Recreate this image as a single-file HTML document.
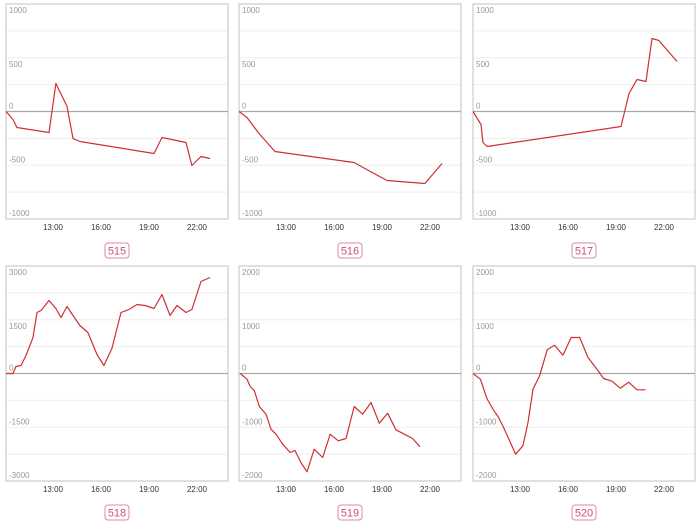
<!DOCTYPE html>
<html><head><meta charset="utf-8">
<style>
html,body{margin:0;padding:0;background:#fff;width:700px;height:524px;overflow:hidden;font-family:"Liberation Sans",sans-serif;}
svg{display:block}
</style></head>
<body>
<svg id="root" width="700" height="524" viewBox="0 0 700 524"></svg>
<script>
// ---- data ----
const panelIds = ["515","516","517","518","519","520"];
const yMaxes = [1000,1000,1000,3000,2000,2000];
const xTicks = [13,16,19,22];
const xTickLabels = ["13:00","16:00","19:00","22:00"];
const t515 = [10.0,10.44,10.69,12.69,13.12,13.81,14.19,14.62,19.25,19.75,21.25,21.62,22.19,22.75];
const v515 = [0,-74,-149,-195,260,47,-251,-279,-391,-242,-288,-502,-419,-437];
const t516 = [10.0,10.5,11.25,12.25,17.19,19.25,21.62,22.69];
const v516 = [0,-56,-205,-372,-474,-642,-670,-484];
const t517 = [10.0,10.5,10.62,10.88,19.25,19.75,20.25,20.81,21.19,21.62,22.75];
const v517 = [0,-121,-288,-326,-140,167,298,279,679,660,465];
const t518 = [10.0,10.44,10.62,10.94,11.25,11.69,11.94,12.19,12.69,13.12,13.44,13.81,14.19,14.62,15.12,15.69,16.12,16.62,17.19,17.69,18.19,18.69,19.25,19.75,20.25,20.69,21.25,21.62,22.19,22.75];
const v518 = [0,0,195,223,502,1004,1702,1758,2037,1814,1562,1869,1618,1339,1144,530,223,698,1702,1786,1925,1897,1814,2204,1618,1897,1702,1786,2567,2678];
const t519 = [10.08,10.5,10.7,10.96,11.27,11.69,12.0,12.31,12.73,13.2,13.5,13.87,14.25,14.7,15.23,15.7,16.2,16.69,17.2,17.73,18.25,18.77,19.29,19.81,20.33,20.85,21.31];
const v519 = [0,-106,-242,-322,-614,-757,-1036,-1129,-1315,-1469,-1432,-1655,-1829,-1408,-1562,-1129,-1252,-1209,-614,-757,-539,-924,-738,-1047,-1129,-1209,-1363];
const t520 = [10.0,10.46,10.87,11.25,11.6,11.91,12.29,12.66,13.12,13.44,13.75,14.16,14.64,15.1,15.62,16.14,16.67,17.19,17.71,18.16,18.69,19.2,19.73,20.25,20.79];
const v520 = [0,-106,-465,-664,-818,-1004,-1252,-1501,-1345,-911,-292,-43,441,527,341,670,670,298,93,-93,-143,-273,-161,-304,-304];
const times = [t515,t516,t517,t518,t519,t520];
const values = [v515,v516,v517,v518,v519,v520];

// ---- layout ----
const NS="http://www.w3.org/2000/svg";
const root=document.getElementById('root');
const colX=[6,239,473], rowY=[4,266], PW=222, PH=215;
function mk(tag,attrs,parent){const e=document.createElementNS(NS,tag);for(const k in attrs)e.setAttribute(k,attrs[k]);parent.appendChild(e);return e;}

panelIds.forEach((id,i)=>{
  const x0=colX[i%3], y0=rowY[Math.floor(i/3)], ymax=yMaxes[i];
  const sx=t=>x0+(t-10)*16;
  const sy=v=>y0+PH/2-v/ymax*(PH/2);
  const g=mk('g',{},root);
  
  
  for(let k=1;k<8;k++){
    if(k===4)continue;
    const gl=mk('line',{x1:x0,x2:x0+PW,y1:y0+k*PH/8,y2:y0+k*PH/8,stroke:'#eeeeee','stroke-width':1},g);
    
    
  }
  const fr=mk('rect',{x:x0,y:y0,width:PW,height:PH,fill:'none',stroke:'#cccccc','stroke-width':1.2},g);
  
  
  const zl=mk('line',{x1:x0,x2:x0+PW,y1:sy(0),y2:sy(0),stroke:'#a8a8a8','stroke-width':1.2},g);
  
  
  const yl=[ymax,ymax/2,0,-ymax/2,-ymax];
  const yoff=[9,9,-3,-3,-3];
  yl.forEach((v,j)=>{
    const t=mk('text',{x:x0+3,y:sy(v)+yoff[j],'font-size':8,fill:'#999'},g);
    t.textContent=String(v);
    
    
  });
  xTicks.forEach((h,j)=>{
    const t=mk('text',{x:sx(h)-1,y:y0+PH+11,'font-size':8,fill:'#333','text-anchor':'middle'},g);
    t.textContent=xTickLabels[j];
    
    
  });
  const pts=times[i].map((t,j)=>sx(t).toFixed(1)+','+sy(values[i][j]).toFixed(1)).join(' ');
  const pl=mk('polyline',{points:pts,fill:'none',stroke:'#d03030','stroke-width':1.2,'stroke-linejoin':'round'},g);
  
  
  const cx=x0+PW/2;
  const by=y0+PH+24;
  const br=mk('rect',{x:cx-12,y:by,width:24,height:15,rx:3,fill:'#fff',stroke:'#d88aa6','stroke-width':1},g);
  
  
  const bt=mk('text',{x:cx,y:by+11.5,'font-size':11,fill:'#cc4c7c','text-anchor':'middle'},g);
  bt.textContent=id;
  
  
});
</script>
</body></html>
